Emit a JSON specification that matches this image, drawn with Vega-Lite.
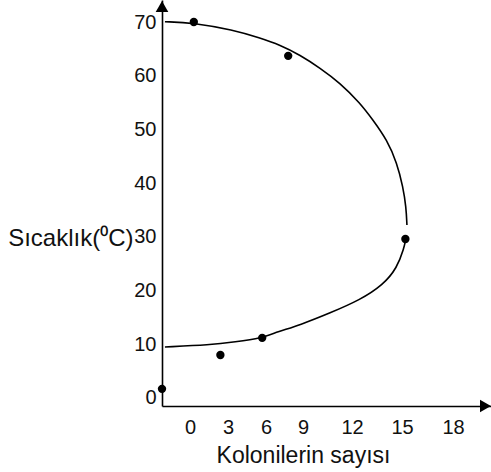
{
  "$schema": "https://vega.github.io/schema/vega-lite/v6.json",
  "autosize": {"type": "none"},
  "padding": {"left": 162, "top": 0, "right": 0, "bottom": 66},
  "width": 329,
  "height": 406,
  "background": "white",
  "config": {
    "view": {"stroke": null},
    "axis": {
      "domainColor": "#000",
      "domainWidth": 1.6,
      "ticks": false,
      "grid": false,
      "labelFont": "Liberation Sans",
      "labelFontSize": 20,
      "labelColor": "#111",
      "titleFont": "Liberation Sans",
      "titleFontSize": 23,
      "titleFontWeight": "normal",
      "titleColor": "#111"
    }
  },
  "datasets": {
    "curve": [
      {"part": "upper", "ord": 1, "x": -1.79, "y": 70.06},
      {"part": "upper", "ord": 2, "x": 0.24, "y": 69.88},
      {"part": "upper", "ord": 3, "x": 3.39, "y": 68.52},
      {"part": "upper", "ord": 4, "x": 5.53, "y": 67.03},
      {"part": "upper", "ord": 5, "x": 7.14, "y": 65.72},
      {"part": "upper", "ord": 6, "x": 8.76, "y": 63.86},
      {"part": "upper", "ord": 7, "x": 10.04, "y": 61.44},
      {"part": "upper", "ord": 8, "x": 11.27, "y": 58.65},
      {"part": "upper", "ord": 9, "x": 12.48, "y": 54.93},
      {"part": "upper", "ord": 10, "x": 13.26, "y": 51.76},
      {"part": "upper", "ord": 11, "x": 14.1, "y": 48.04},
      {"part": "upper", "ord": 12, "x": 14.7, "y": 43.75},
      {"part": "upper", "ord": 13, "x": 15.06, "y": 39.29},
      {"part": "upper", "ord": 14, "x": 15.24, "y": 35.56},
      {"part": "upper", "ord": 15, "x": 15.29, "y": 32.21},
      {"part": "lower", "ord": 1, "x": -1.79, "y": 9.5},
      {"part": "lower", "ord": 2, "x": 1.58, "y": 9.87},
      {"part": "lower", "ord": 3, "x": 3.55, "y": 10.43},
      {"part": "lower", "ord": 4, "x": 5.68, "y": 11.17},
      {"part": "lower", "ord": 5, "x": 6.89, "y": 12.29},
      {"part": "lower", "ord": 6, "x": 8.76, "y": 13.59},
      {"part": "lower", "ord": 7, "x": 10.66, "y": 15.83},
      {"part": "lower", "ord": 8, "x": 12.48, "y": 18.25},
      {"part": "lower", "ord": 9, "x": 13.86, "y": 21.04},
      {"part": "lower", "ord": 10, "x": 14.7, "y": 24.2},
      {"part": "lower", "ord": 11, "x": 15.12, "y": 27.93},
      {"part": "lower", "ord": 12, "x": 15.21, "y": 29.4}
    ],
    "points": [
      {"x": -2, "y": 1.7},
      {"x": 0.3, "y": 70},
      {"x": 7.8, "y": 63.7},
      {"x": 15.2, "y": 29.6},
      {"x": 5.7, "y": 11.2},
      {"x": 2.4, "y": 8}
    ],
    "arrows": [
      {"axis": "y", "x": -2, "y": 72.9},
      {"axis": "x", "x": 19.88, "y": -1.49}
    ]
  },
  "encoding": {
    "x": {
      "field": "x",
      "type": "quantitative",
      "scale": {
        "domain": [-2, 0, 3, 6, 9, 12, 15, 18, 20.2],
        "range": [0, 28, 66, 104, 141, 190, 240, 291, 329],
        "nice": false,
        "zero": false
      },
      "axis": {
        "values": [0, 3, 6, 9, 12, 15, 18],
        "labelPadding": 11,
        "title": "Kolonilerin sayısı",
        "titleX": 141,
        "titleY": 56,
        "titleAlign": "center",
        "titleBaseline": "alphabetic"
      }
    },
    "y": {
      "field": "y",
      "type": "quantitative",
      "scale": {"domain": [-1.49, 74.1], "nice": false, "zero": false},
      "axis": {
        "values": [0, 10, 20, 30, 40, 50, 60, 70],
        "labelPadding": 6,
        "title": "Sıcaklık(⁰C)",
        "titleFontSize": 24,
        "titleAngle": 0,
        "titleAlign": "right",
        "titleBaseline": "middle",
        "titleX": -29,
        "titleY": 238
      }
    }
  },
  "layer": [
    {
      "data": {"name": "curve"},
      "mark": {"type": "line", "color": "#000", "strokeWidth": 1.6, "interpolate": "basis"},
      "encoding": {
        "detail": {"field": "part", "type": "nominal"},
        "order": {"field": "ord", "type": "quantitative"}
      }
    },
    {
      "data": {"name": "points"},
      "mark": {"type": "point", "filled": true, "color": "#000", "opacity": 1, "size": 70, "shape": "circle"}
    },
    {
      "data": {"name": "arrows"},
      "mark": {"type": "point", "filled": true, "color": "#000", "opacity": 1, "size": 160},
      "encoding": {
        "shape": {
          "field": "axis",
          "type": "nominal",
          "scale": {"domain": ["x", "y"], "range": ["triangle-right", "triangle-up"]},
          "legend": null
        }
      }
    }
  ]
}
